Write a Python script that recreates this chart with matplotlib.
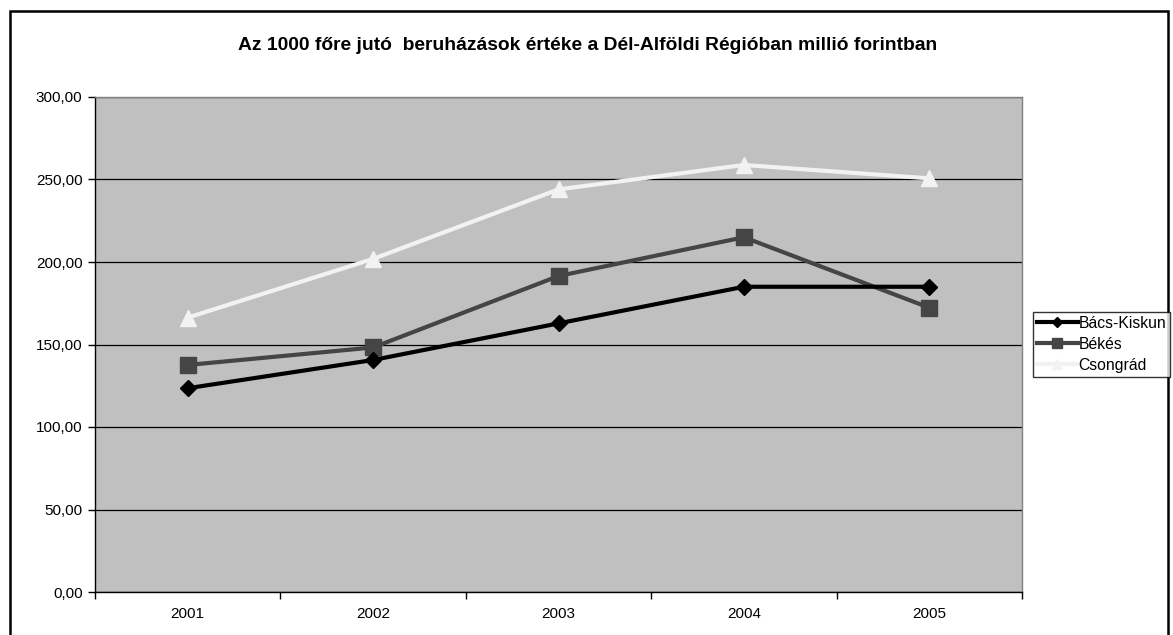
import matplotlib
matplotlib.use("Agg")
import matplotlib.pyplot as plt
from matplotlib.patches import Rectangle
from matplotlib.ticker import FixedLocator, FuncFormatter

years = ["2001", "2002", "2003", "2004", "2005"]
bacs_kiskun = [123.5, 140.6, 162.8, 185.0, 185.0]
bekes = [137.6, 148.2, 191.5, 215.0, 172.3]
csongrad = [166.3, 201.9, 244.0, 258.8, 250.7]
series_names = ["Bács-Kiskun", "Békés", "Csongrád"]
title = "Az 1000 főre jutó  beruházások értéke a Dél-Alföldi Régióban millió forintban"

plt.rcParams['font.family'] = ['Liberation Sans', 'DejaVu Sans']

W, H = 1173, 635
fig = plt.figure(figsize=(W / 100, H / 100), dpi=100)
fig.patch.set_facecolor("white")

# outer frame
fig.patches.append(Rectangle((10 / W, -0.05), (1168 - 10) / W, 1.05 - 11 / H,
                             transform=fig.transFigure, fill=False,
                             edgecolor="black", linewidth=1.8))

ax = fig.add_axes([95 / W, (H - 592) / H, (1022 - 95) / W, (592 - 97) / H])
ax.set_facecolor("#c0c0c0")

x = list(range(len(years)))
ax.plot(x, bacs_kiskun, color="black", lw=3, marker="D", ms=8, label=series_names[0], zorder=5)
ax.plot(x, bekes, color="#454545", lw=3, marker="s", ms=11, label=series_names[1], zorder=4)
ax.plot(x, csongrad, color="#f2f2f2", lw=3, marker="^", ms=11, label=series_names[2], zorder=3)

ax.set_xlim(-0.5, len(years) - 0.5)
ax.set_ylim(0, 300)
ax.set_yticks([0, 50, 100, 150, 200, 250, 300])
ax.yaxis.set_major_formatter(FuncFormatter(lambda v, p: f"{v:.2f}".replace(".", ",")))
ax.grid(axis="y", color="black", lw=0.9)
ax.set_axisbelow(True)

ax.set_xticks(x)
ax.set_xticklabels(years)
ax.xaxis.set_minor_locator(FixedLocator([i - 0.5 for i in range(len(years) + 1)]))
ax.tick_params(axis="x", which="major", length=0, pad=11, labelsize=11)
ax.tick_params(axis="x", which="minor", length=5, direction="out", width=1)
ax.tick_params(axis="y", length=5, direction="out", width=1, labelsize=11, pad=4)

for s in ["top", "right"]:
    ax.spines[s].set_color("#808080")
    ax.spines[s].set_linewidth(1)
for s in ["left", "bottom"]:
    ax.spines[s].set_color("black")
    ax.spines[s].set_linewidth(1)

fig.text(588 / W, 1 - 45 / H, title, ha="center", va="center",
         fontsize=13.9, fontweight="bold")

leg = fig.legend(loc="upper left", bbox_to_anchor=(1033 / W, 1 - 312 / H),
                 frameon=True, fancybox=False, edgecolor="black", fontsize=11.3,
                 handlelength=2.6, handletextpad=0.05, borderpad=0.25,
                 labelspacing=0.38, borderaxespad=0, markerscale=0.7)
leg.get_frame().set_linewidth(1)

fig.savefig("out.png", dpi=100)
